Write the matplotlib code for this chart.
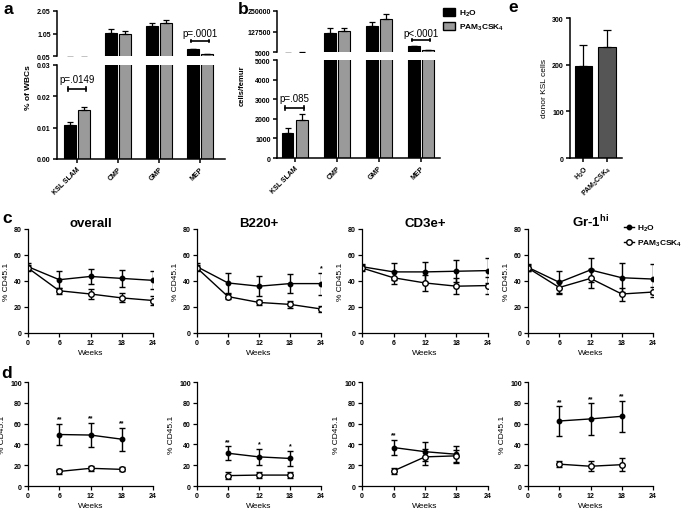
import numpy as np
import matplotlib
matplotlib.use('Agg')
import matplotlib.pyplot as plt
from matplotlib.patches import Patch
from matplotlib.lines import Line2D

plt.rcParams['font.family'] = ['Liberation Sans', 'DejaVu Sans']
plt.rcParams['font.weight'] = 'bold'
plt.rcParams['axes.titleweight'] = 'bold'
plt.rcParams['mathtext.fontset'] = 'custom'
plt.rcParams['mathtext.bf'] = 'Liberation Sans:bold'
plt.rcParams['mathtext.rm'] = 'Liberation Sans:bold'
plt.rcParams['mathtext.default'] = 'bf'

# ---- data ----
groups = ['KSL SLAM', 'CMP', 'GMP', 'MEP']
wbc_h2o = [0.0107, 1.09, 1.39, 0.34]
wbc_h2o_err = [0.0011, 0.18, 0.12, 0.02]
wbc_pam = [0.0155, 1.04, 1.51, 0.14]
wbc_pam_err = [0.0012, 0.13, 0.14, 0.01]

femur_h2o = [1300, 121500, 161600, 41000]
femur_h2o_err = [230, 24000, 20000, 2000]
femur_pam = [1950, 129500, 201800, 17000]
femur_pam_err = [270, 18000, 28000, 1500]

donor_labels = ['H$_2$O', 'PAM$_3$CSK$_4$']
donor_ksl = [197, 238]
donor_ksl_err = [46, 37]

panel_titles = ['overall', 'B220+', 'CD3e+', r'Gr-1$^{hi}$']

weeks_c = [0, 6, 12, 18, 24]
c_h2o = [[51, 41, 43.5, 42, 40.5],
         [51, 38.5, 36, 38, 38],
         [51, 47, 47, 47.5, 48],
         [50.5, 39, 48.5, 42.5, 41.5]]
c_h2o_err = [[2.5, 6.5, 6, 6.5, 7],
             [2.5, 7.5, 7.5, 7.5, 8.5],
             [2, 6.5, 8, 8.5, 9.5],
             [2.5, 9, 9, 11, 11.5]]
c_pam = [[50, 32.5, 30, 27, 25],
         [50, 28, 23.5, 22, 18.5],
         [50, 42.5, 38.5, 36, 36.5],
         [50, 35, 42, 30, 31.5]]
c_pam_err = [[2.5, 2.5, 3.5, 3.5, 3.5],
             [2.5, 2, 2, 3, 2.5],
             [2, 5, 6, 6, 6.5],
             [2.5, 4.5, 7.5, 5, 4]]
c_stars = [['', '', '', '', ''],
           ['', '', '', '', '*'],
           ['', '', '', '', ''],
           ['', '', '', '', '']]

weeks_d = [6, 12, 18]
d_h2o = [[49.5, 49, 45], [31.5, 28, 26.5], [37, 33, 30.5], [62.5, 64.5, 67]]
d_h2o_err = [[10, 11.5, 11], [6.5, 7.5, 7], [7, 9, 8], [14, 15, 15]]
d_pam = [[14, 17, 16], [10, 10.5, 10.5], [14.5, 28, 29], [21, 19, 20.5]]
d_pam_err = [[2, 2.5, 2], [3, 2.5, 2.5], [3, 8, 6], [3, 5, 6]]
d_stars = [['**', '**', '**'], ['**', '*', '*'], ['**', '', ''], ['**', '**', '**']]

W, H = 685, 510
fig = plt.figure(figsize=(W / 100, H / 100), dpi=100)


def rect(x0, y0, x1, y1):
    return [x0 / W, 1 - y1 / H, (x1 - x0) / W, (y1 - y0) / H]


def style(ax, lw=1.1):
    ax.spines['right'].set_visible(False)
    ax.spines['top'].set_visible(False)
    for s in ('left', 'bottom'):
        ax.spines[s].set_linewidth(lw)
    ax.tick_params(labelsize=5, width=lw, length=3, pad=1.5)


def bars(ax, h2o, h2o_err, pam, pam_err):
    x = np.arange(len(groups))
    kw = dict(width=0.28, edgecolor='black', linewidth=0.8,
              error_kw=dict(elinewidth=0.9, capsize=2.2, capthick=0.9))
    ax.bar(x - 0.17, h2o, yerr=[np.zeros(len(x)), h2o_err], color='black', **kw)
    ax.bar(x + 0.17, pam, yerr=[np.zeros(len(x)), pam_err], color='#9a9a9a', **kw)


def bracket(ax, xc, y, text, dy):
    ax.plot([xc - 0.22, xc + 0.22], [y, y], color='black', lw=1.2)
    ax.plot([xc - 0.22, xc - 0.22], [y - dy, y + dy], color='black', lw=1.2)
    ax.plot([xc + 0.22, xc + 0.22], [y - dy, y + dy], color='black', lw=1.2)
    ax.text(xc, y + 2.2 * dy, text, ha='center', va='bottom', fontsize=7,
            fontweight='normal')


def broken(top_rect, bot_rect, xlim, top_lim, top_ticks, bot_lim, bot_ticks,
           h2o, h2o_err, pam, pam_err):
    axt = fig.add_axes(rect(*top_rect))
    axb = fig.add_axes(rect(*bot_rect))
    for ax in (axt, axb):
        style(ax)
        bars(ax, h2o, h2o_err, pam, pam_err)
        ax.set_xlim(*xlim)
    axt.spines['bottom'].set_visible(False)
    axt.tick_params(axis='x', bottom=False, labelbottom=False)
    axt.set_ylim(*top_lim)
    axt.set_yticks(top_ticks)
    axb.set_ylim(*bot_lim)
    axb.set_yticks(bot_ticks)
    axb.set_xticks(np.arange(len(groups)))
    axb.set_xticklabels(groups, rotation=45, ha='right', rotation_mode='anchor',
                        fontsize=5)
    return axt, axb


# ---- panel a ----
at, ab = broken((57, 12, 225, 57), (57, 66, 225, 160), (-0.49, 3.61),
                (0.05, 2.05), [0.05, 1.05, 2.05], (0, 0.03),
                [0, 0.01, 0.02, 0.03], wbc_h2o, wbc_h2o_err, wbc_pam, wbc_pam_err)
at.set_yticklabels(['0.05', '1.05', '2.05'])
ab.set_yticklabels(['0.00', '0.01', '0.02', '0.03'])
bracket(ab, 0, 0.0223, 'p=.0149', 0.0007)
bracket(at, 3, 0.73, 'p=.0001', 0.05)
fig.text(28 / W, 1 - 88 / H, '% of WBCs', rotation=90, ha='center', va='center',
         fontsize=6)

# ---- panel b ----
bt, bb = broken((277, 12, 440, 53), (277, 61, 440, 159), (-0.42, 3.45),
                (5000, 250000), [5000, 127500, 250000], (0, 5000),
                [0, 1000, 2000, 3000, 4000, 5000],
                femur_h2o, femur_h2o_err, femur_pam, femur_pam_err)
bracket(bb, 0, 2540, 'p=.085', 110)
bracket(bt, 3, 77300, 'p<.0001', 6000)
fig.text(242 / W, 1 - 86 / H, 'cells/femur', rotation=90, ha='center',
         va='center', fontsize=5.5)

fig.legend(handles=[Patch(facecolor='black', edgecolor='black', label='H$_2$O'),
                    Patch(facecolor='#9a9a9a', edgecolor='black',
                          label='PAM$_3$CSK$_4$')],
           loc='upper left', bbox_to_anchor=(443 / W, 1 - 9 / H), frameon=False,
           fontsize=6, handlelength=1.4, handleheight=1.1, handletextpad=0.5,
           labelspacing=0.45, borderpad=0, borderaxespad=0)

# ---- panel e ----
ae = fig.add_axes(rect(570, 19, 622, 159))
style(ae)
ae.bar([0, 1], donor_ksl, yerr=[[0, 0], donor_ksl_err], width=0.74,
       color=['black', '#555555'], edgecolor='black', linewidth=0.8,
       error_kw=dict(elinewidth=0.9, capsize=3, capthick=0.9))
ae.set_xlim(-0.57, 1.64)
ae.set_ylim(0, 300)
ae.set_yticks([0, 100, 200, 300])
ae.set_xticks([0, 1])
ae.set_xticklabels(donor_labels, rotation=45, ha='right', rotation_mode='anchor',
                   fontsize=5)
ae.set_ylabel('donor KSL cells', fontsize=6, labelpad=3)

# ---- panels c and d ----
xcols = [(28, 153), (197, 321), (362, 488), (528, 653)]


def timecourse(ax, weeks, h2o, h2o_err, pam, pam_err, stars, ymax):
    style(ax, lw=0.9)
    ax.errorbar(weeks, h2o, yerr=h2o_err, color='black', lw=1.0, marker='o',
                ms=3.2, mfc='black', mec='black', capsize=2.2, elinewidth=1.0,
                capthick=1.0)
    ax.errorbar(weeks, pam, yerr=pam_err, color='black', lw=1.0, marker='o',
                ms=4, mfc='white', mec='black', mew=1.0, capsize=2.2,
                elinewidth=1.0, capthick=1.0)
    for w, v, e, s in zip(weeks, h2o, h2o_err, stars):
        if s:
            ax.text(w, v + e + ymax * 0.015, s, ha='center', va='bottom',
                    fontsize=5)
    ax.set_xlim(0, 24)
    ax.set_ylim(0, ymax)
    ax.set_xticks([0, 6, 12, 18, 24])
    ax.set_xlabel('Weeks', fontsize=6, labelpad=2)
    ax.set_ylabel('% CD45.1', fontsize=6, labelpad=3)


for i, (x0, x1) in enumerate(xcols):
    ac = fig.add_axes(rect(x0, 230, x1, 334))
    timecourse(ac, weeks_c, c_h2o[i], c_h2o_err[i], c_pam[i], c_pam_err[i],
               c_stars[i], 80)
    ac.set_yticks([0, 20, 40, 60, 80])
    ac.set_title(panel_titles[i], fontsize=9.5, fontweight='bold', pad=2)

    ad = fig.add_axes(rect(x0, 383, x1, 487))
    timecourse(ad, weeks_d, d_h2o[i], d_h2o_err[i], d_pam[i], d_pam_err[i],
               d_stars[i], 100)
    ad.set_yticks([0, 20, 40, 60, 80, 100])

fig.legend(handles=[Line2D([], [], color='black', marker='o', ms=3.2, lw=1,
                           label='H$_2$O'),
                    Line2D([], [], color='black', marker='o', ms=4, mfc='white',
                           lw=1, label='PAM$_3$CSK$_4$')],
           loc='upper left', bbox_to_anchor=(624 / W, 1 - 224 / H), frameon=False,
           fontsize=6, handlelength=1.2, handletextpad=0.4, labelspacing=0.6,
           borderpad=0, borderaxespad=0)

# ---- panel letters ----
for letter, (px, py) in zip('abecd', [(3, 2), (238, 2), (508, 0), (2, 211),
                                      (1, 366)]):
    fig.text(px / W, 1 - py / H, letter, ha='left', va='top', fontsize=12.5)

fig.savefig('out.png', dpi=100)
